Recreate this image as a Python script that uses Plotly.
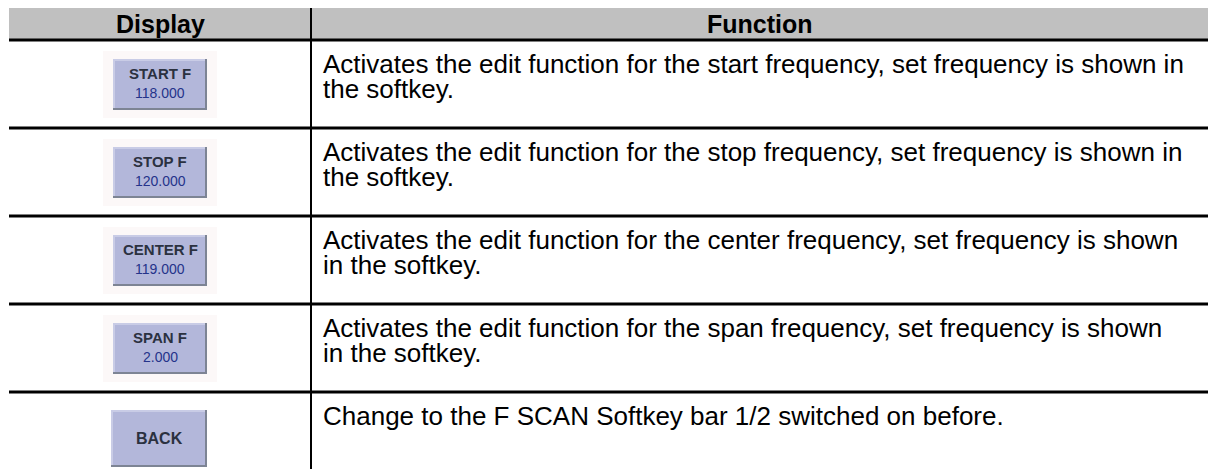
import plotly.graph_objects as go

# ---- data ----
headers = ["Display", "Function"]
softkey_labels = ["START F", "STOP F", "CENTER F", "SPAN F", "BACK"]
softkey_values = ["118.000", "120.000", "119.000", "2.000", ""]
function_lines = [
    ["Activates the edit function for the start frequency, set frequency is shown in", "the softkey."],
    ["Activates the edit function for the stop frequency, set frequency is shown in", "the softkey."],
    ["Activates the edit function for the center frequency, set frequency is shown", "in the softkey."],
    ["Activates the edit function for the span frequency, set frequency is shown", "in the softkey."],
    ["Change to the F SCAN Softkey bar 1/2 switched on before."],
]

# ---- layout geometry ----
W, H = 1208, 469
left, right = 9, 1208
head_top, head_bot = 8, 40
row_h = 88
col_x = 311
body_font = "Liberation Sans, Arial, sans-serif"

fig = go.Figure()
shapes = []
ann = []

# header background
shapes.append(dict(type="rect", x0=left, x1=right, y0=head_top, y1=head_bot,
                   fillcolor="#c0c0c0", line=dict(width=0), layer="below"))
for k, (x0, x1) in enumerate([(left, col_x), (col_x, right)]):
    ann.append(dict(x=(x0 + x1) / 2, y=(head_top + head_bot) / 2, text="<b>%s</b>" % headers[k],
                    showarrow=False, font=dict(family=body_font, size=25, color="#000")))

# header bottom line
shapes.append(dict(type="line", x0=left, x1=right, y0=head_bot, y1=head_bot,
                   line=dict(color="#000", width=3)))

for i, (lab, val, lines) in enumerate(zip(softkey_labels, softkey_values, function_lines)):
    top = head_bot + row_h * i
    if i < len(softkey_labels) - 1:
        shapes.append(dict(type="line", x0=left, x1=right, y0=top + row_h, y1=top + row_h,
                           line=dict(color="#000", width=3)))
    # button
    if val:
        bx0, bx1, by0, by1 = 113, 207, top + 19, top + 70
        shapes.append(dict(type="rect", x0=103, x1=217, y0=top + 11, y1=top + 78,
                           fillcolor="#fcf8f8", line=dict(width=0), layer="below"))
    else:
        bx0, bx1, by0, by1 = 111, 207, top + 18, top + 75
    shapes.append(dict(type="rect", x0=bx0, x1=bx1, y0=by0, y1=by1,
                       fillcolor="#b3b7da", line=dict(width=0)))
    # bevel: light top/left, dark bottom/right
    shapes.append(dict(type="line", x0=bx0, x1=bx1, y0=by0 + 1, y1=by0 + 1, line=dict(color="#c9cce6", width=2)))
    shapes.append(dict(type="line", x0=bx0 + 1, x1=bx0 + 1, y0=by0, y1=by1, line=dict(color="#c9cce6", width=2)))
    shapes.append(dict(type="line", x0=bx0, x1=bx1, y0=by1 - 1, y1=by1 - 1, line=dict(color="#7d8494", width=2)))
    shapes.append(dict(type="line", x0=bx1 - 1, x1=bx1 - 1, y0=by0, y1=by1, line=dict(color="#7d8494", width=2)))
    if val:
        ann.append(dict(x=(bx0 + bx1) / 2, y=top + 33, text="<b>%s</b>" % lab, showarrow=False,
                        font=dict(family=body_font, size=15, color="#2b3140")))
        ann.append(dict(x=(bx0 + bx1) / 2, y=top + 53, text=val, showarrow=False,
                        font=dict(family=body_font, size=14, color="#25338a")))
    else:
        ann.append(dict(x=(bx0 + bx1) / 2, y=(by0 + by1) / 2, text="<b>%s</b>" % lab, showarrow=False,
                        font=dict(family=body_font, size=16, color="#2b3140")))
    # function text
    for j, ln in enumerate(lines):
        ann.append(dict(x=321, y=top + 24 + 24.5 * j, text=ln, showarrow=False, xanchor="left",
                        font=dict(family=body_font, size=26, color="#000")))

# vertical divider
shapes.append(dict(type="line", x0=col_x, x1=col_x, y0=head_top, y1=H,
                   line=dict(color="#000", width=2)))

fig.update_layout(
    width=W, height=H, margin=dict(l=0, r=0, t=0, b=0),
    paper_bgcolor="white", plot_bgcolor="white",
    xaxis=dict(range=[0, W], visible=False, fixedrange=True),
    yaxis=dict(range=[H, 0], visible=False, fixedrange=True),
    shapes=shapes, annotations=ann, showlegend=False,
)
fig.write_html("out.html", config={"displayModeBar": False},
               post_script="document.body.style.margin='0';document.body.style.overflow='hidden';")
